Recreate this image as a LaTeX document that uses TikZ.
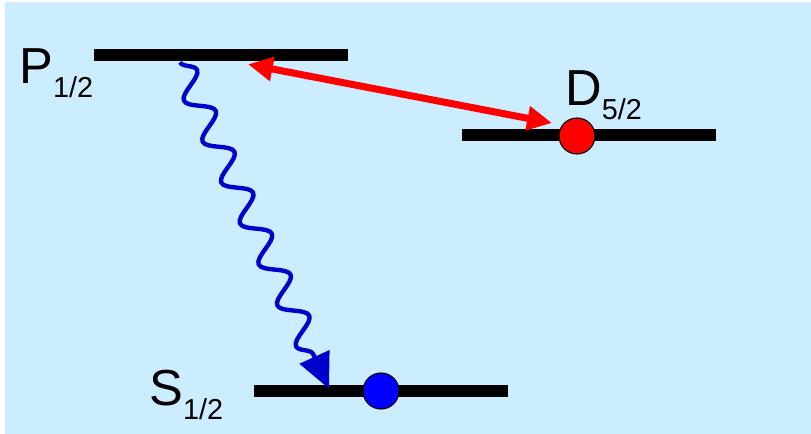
\documentclass[tikz,border=0pt]{standalone}
\usepackage{fontspec}
\setmainfont{Liberation Sans}
\usetikzlibrary{arrows.meta, calc, decorations.pathmorphing}
\definecolor{bgblue}{HTML}{CCECFF}
\definecolor{wavblue}{HTML}{0000CC}
\newcommand{\lvlname}[3]{#1\raisebox{#3}{\fontsize{20.5}{24}\selectfont #2}}

\begin{document}
\begin{tikzpicture}[x=0.025cm, y=-0.025cm,
  level/.style={fill=black, minimum width=6.35cm, minimum height=0.3cm, inner sep=0pt},
  ion/.style={circle, draw=black, line width=0.8pt, minimum size=0.9cm, inner sep=0pt},
  term/.style={anchor=base west, inner sep=0pt, font=\fontsize{36}{40}\selectfont},
  pump/.style={{Triangle[length=0.62cm,width=0.58cm]}-{Triangle[length=0.62cm,width=0.58cm]},
    red, line width=5pt},
  decay/.style={-{Triangle[length=0.875cm,width=0.8cm]}, wavblue, line width=3.1pt,
    line join=round, decorate,
    decoration={snake, amplitude=0.31cm, segment length=1.125cm, post length=0.9cm}}
]
\useasboundingbox (0,0) rectangle (811,434);
\fill[bgblue] (5,2) rectangle (811,434);

% levels
\node[level] (P) at (221,55) {};
\node[level] (D) at (589,135) {};
\node[level] (S) at (381,391) {};

% labels
\node[term] (Plab) at (19,83) {\lvlname{P}{1/2}{-10pt}};
\node[term] (Dlab) at (565,105) {\lvlname{D}{5/2}{-10pt}};
\node[term] (Slab) at (149,405) {\lvlname{S}{1/2}{-10.6pt}};

% ions
\node[ion, fill=red] (Dion) at ($(D.center)+(-12,1)$) {};
\node[ion, fill=blue] (Sion) at (S.center) {};

% transitions
\coordinate (redL) at ($(P.south)+(27,3)$);
\coordinate (redR) at ($(Dion.center)+(-25,-13)$);
\draw[pump] (redL) -- (redR);

\coordinate (waveTop) at ($(P.south)+(-41,1)$);
\coordinate (waveEnd) at ($(S.north)+(-52,4)$);
\draw[decay] (waveTop) -- (waveEnd);
\end{tikzpicture}
\end{document}
